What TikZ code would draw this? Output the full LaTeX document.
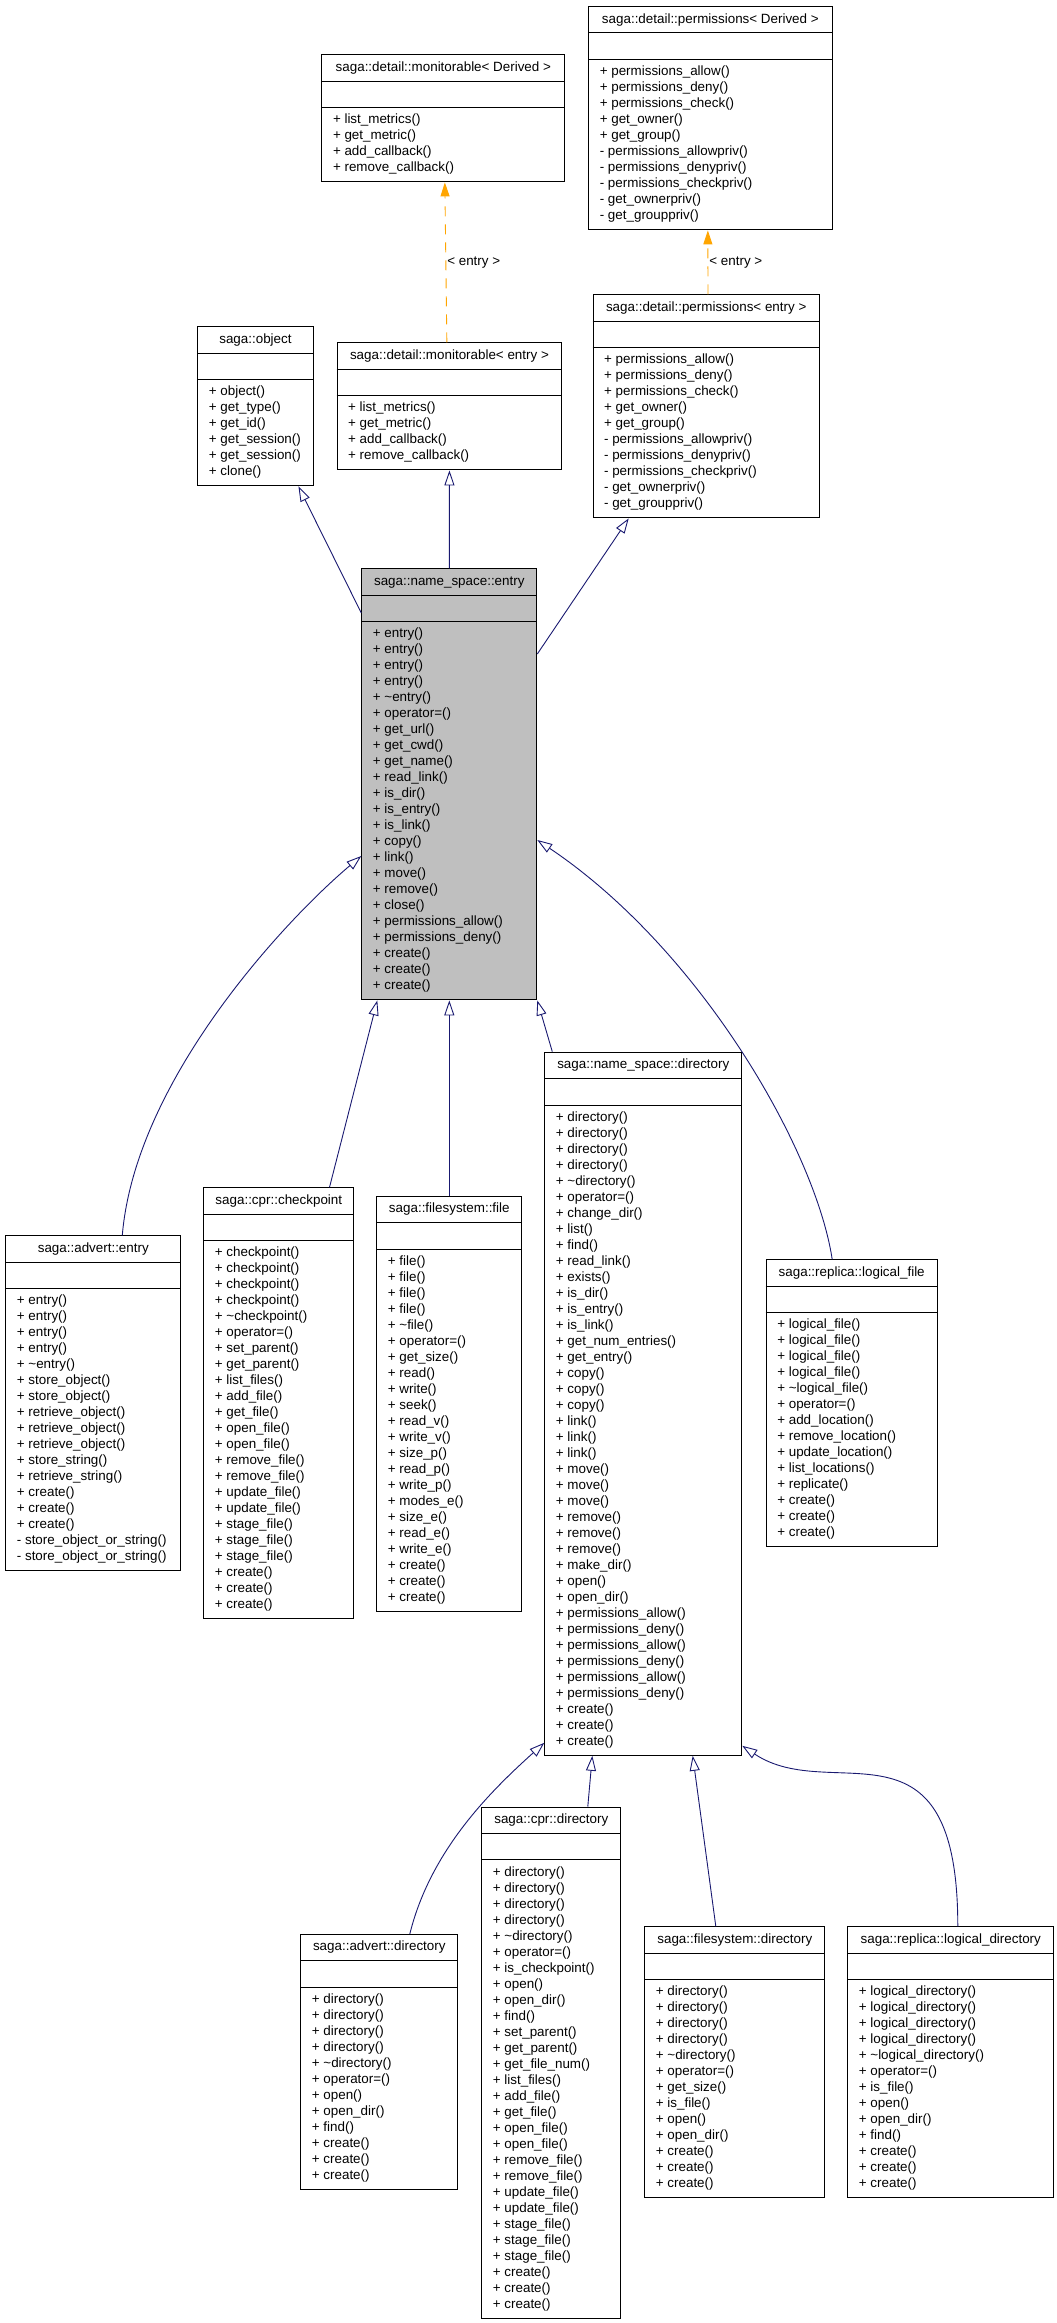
\documentclass[tikz,border=0pt]{standalone}
\usepackage{fontspec}                 % polices systeme
\setmainfont{Liberation Sans}
\usepackage{tikz}
\usetikzlibrary{arrows.meta,          % pointes de fleches
           calc}                      % calculs de coordonnees
\definecolor{lien}{RGB}{25,25,112}
\definecolor{gabarit}{RGB}{255,165,0}
\definecolor{grisclasse}{RGB}{191,191,191}
\newcommand{\police}{\fontsize{13.4}{16}\selectfont}
% classe : [style] nom, x, y, largeur, nb de membres, titre, membres
\newcommand{\classe}[8][]{%
  \node[classe,#1,minimum width=#5pt,minimum height={16*#6+63.1}] (#2) at (#3,#4) {};
  \draw[line width=1pt] (#2.north west) ++(0,26.7) -- ++(#5,0);
  \draw[line width=1pt] (#2.north west) ++(0,53.4) -- ++(#5,0);
  \path (#2.north) ++(0,16.9) node[titre] (#2-t) {#7};
  \foreach \m [count=\i] in {#8}
    \path (#2.north west) ++(11.4,{53.6+16*\i}) node[membre] (#2-\i) {\m};
}

\begin{document}
\begin{tikzpicture}[x=1pt,y=-1pt,
  classe/.style={draw=black,line width=1pt,fill=white,inner sep=0pt,anchor=north west},
  titre/.style={anchor=base,inner sep=0pt,font=\police},
  membre/.style={anchor=base west,inner sep=0pt,font=\police},
  herite/.style={draw=lien,line width=0.9pt,-{Triangle[open,length=15pt,width=10pt,line width=0.9pt]}},
  modele/.style={draw=gabarit,line width=0.9pt,dash pattern=on 10pt off 8pt,-{Triangle[length=14pt,width=9pt,fill=gabarit]}},
  etiquette/.style={anchor=west,inner sep=1pt,font=\police}]
\useasboundingbox (0,0) rectangle (1057,2323);
\classe{monD}{321.4}{54.3}{242.9}{4}{saga::detail::monitorable< Derived >}
  {+ list\_metrics(),+ get\_metric(),+ add\_callback(),+ remove\_callback()}
\classe{permD}{588.2}{6.3}{243.3}{10}{saga::detail::permissions< Derived >}
  {+ permissions\_allow(),+ permissions\_deny(),+ permissions\_check(),+ get\_owner(),+ get\_group(),
   - permissions\_allowpriv(),- permissions\_denypriv(),- permissions\_checkpriv(),- get\_ownerpriv(),- get\_grouppriv()}
\classe{objet}{197.3}{326.3}{115.3}{6}{saga::object}
  {+ object(),+ get\_type(),+ get\_id(),+ get\_session(),+ get\_session(),+ clone()}
\classe{monE}{336.6}{342.3}{224.7}{4}{saga::detail::monitorable< entry >}
  {+ list\_metrics(),+ get\_metric(),+ add\_callback(),+ remove\_callback()}
\classe{permE}{592.5}{294.3}{226.4}{10}{saga::detail::permissions< entry >}
  {+ permissions\_allow(),+ permissions\_deny(),+ permissions\_check(),+ get\_owner(),+ get\_group(),
   - permissions\_allowpriv(),- permissions\_denypriv(),- permissions\_checkpriv(),- get\_ownerpriv(),- get\_grouppriv()}
\classe[fill=grisclasse]{entry}{361.3}{568.3}{175}{23}{saga::name\_space::entry}
  {+ entry(),+ entry(),+ entry(),+ entry(),+ \textasciitilde entry(),+ operator=(),+ get\_url(),+ get\_cwd(),
   + get\_name(),+ read\_link(),+ is\_dir(),+ is\_entry(),+ is\_link(),+ copy(),+ link(),+ move(),+ remove(),
   + close(),+ permissions\_allow(),+ permissions\_deny(),+ create(),+ create(),+ create()}
\classe{advE}{5.3}{1235.3}{175}{17}{saga::advert::entry}
  {+ entry(),+ entry(),+ entry(),+ entry(),+ \textasciitilde entry(),+ store\_object(),+ store\_object(),
   + retrieve\_object(),+ retrieve\_object(),+ retrieve\_object(),+ store\_string(),+ retrieve\_string(),
   + create(),+ create(),+ create(),- store\_object\_or\_string(),- store\_object\_or\_string()}
\classe{chk}{203.3}{1187.3}{150}{23}{saga::cpr::checkpoint}
  {+ checkpoint(),+ checkpoint(),+ checkpoint(),+ checkpoint(),+ \textasciitilde checkpoint(),+ operator=(),
   + set\_parent(),+ get\_parent(),+ list\_files(),+ add\_file(),+ get\_file(),+ open\_file(),+ open\_file(),
   + remove\_file(),+ remove\_file(),+ update\_file(),+ update\_file(),+ stage\_file(),+ stage\_file(),
   + stage\_file(),+ create(),+ create(),+ create()}
\classe{fichier}{376.3}{1195.7}{145}{22}{saga::filesystem::file}
  {+ file(),+ file(),+ file(),+ file(),+ \textasciitilde file(),+ operator=(),+ get\_size(),+ read(),+ write(),
   + seek(),+ read\_v(),+ write\_v(),+ size\_p(),+ read\_p(),+ write\_p(),+ modes\_e(),+ size\_e(),+ read\_e(),
   + write\_e(),+ create(),+ create(),+ create()}
\classe{dir}{544.3}{1051.7}{197}{40}{saga::name\_space::directory}
  {+ directory(),+ directory(),+ directory(),+ directory(),+ \textasciitilde directory(),+ operator=(),
   + change\_dir(),+ list(),+ find(),+ read\_link(),+ exists(),+ is\_dir(),+ is\_entry(),+ is\_link(),
   + get\_num\_entries(),+ get\_entry(),+ copy(),+ copy(),+ copy(),+ link(),+ link(),+ link(),+ move(),
   + move(),+ move(),+ remove(),+ remove(),+ remove(),+ make\_dir(),+ open(),+ open\_dir(),
   + permissions\_allow(),+ permissions\_deny(),+ permissions\_allow(),+ permissions\_deny(),
   + permissions\_allow(),+ permissions\_deny(),+ create(),+ create(),+ create()}
\classe{lfichier}{765.7}{1259.3}{171}{14}{saga::replica::logical\_file}
  {+ logical\_file(),+ logical\_file(),+ logical\_file(),+ logical\_file(),+ \textasciitilde logical\_file(),
   + operator=(),+ add\_location(),+ remove\_location(),+ update\_location(),+ list\_locations(),
   + replicate(),+ create(),+ create(),+ create()}
\classe{advD}{300.3}{1934}{157}{12}{saga::advert::directory}
  {+ directory(),+ directory(),+ directory(),+ directory(),+ \textasciitilde directory(),+ operator=(),
   + open(),+ open\_dir(),+ find(),+ create(),+ create(),+ create()}
\classe{cprD}{481.3}{1806.5}{139}{28}{saga::cpr::directory}
  {+ directory(),+ directory(),+ directory(),+ directory(),+ \textasciitilde directory(),+ operator=(),
   + is\_checkpoint(),+ open(),+ open\_dir(),+ find(),+ set\_parent(),+ get\_parent(),+ get\_file\_num(),
   + list\_files(),+ add\_file(),+ get\_file(),+ open\_file(),+ open\_file(),+ remove\_file(),+ remove\_file(),
   + update\_file(),+ update\_file(),+ stage\_file(),+ stage\_file(),+ stage\_file(),+ create(),+ create(),+ create()}
\classe{fsD}{644.3}{1926.3}{180}{13}{saga::filesystem::directory}
  {+ directory(),+ directory(),+ directory(),+ directory(),+ \textasciitilde directory(),+ operator=(),
   + get\_size(),+ is\_file(),+ open(),+ open\_dir(),+ create(),+ create(),+ create()}
\classe{ldir}{847.3}{1926.3}{206}{13}{saga::replica::logical\_directory}
  {+ logical\_directory(),+ logical\_directory(),+ logical\_directory(),+ logical\_directory(),
   + \textasciitilde logical\_directory(),+ operator=(),+ is\_file(),+ open(),+ open\_dir(),+ find(),
   + create(),+ create(),+ create()}
\draw[modele] ([xshift=-2.6pt]monE.north) -- ([xshift=1.5pt]monD.south) node[midway,etiquette] {< entry >};
\draw[modele] ([xshift=1.8pt]permE.north) -- ([xshift=-2.5pt]permD.south) node[midway,etiquette] {< entry >};
\draw[herite] ([yshift=-44.7pt]entry.north west) -- ([xshift=43pt]objet.south);
\draw[herite] (entry.north) -- (monE.south);
\draw[herite] ([yshift=-85.7pt]entry.north east) -- ([xshift=-77.5pt]permE.south);
\draw[herite] ([xshift=29pt]advE.north) .. controls +(13,-155) and +(-76,64) .. ([yshift=-287.7pt]entry.north west);
\draw[herite] ([xshift=50.7pt]chk.north) -- ([xshift=16pt]entry.south west);
\draw[herite] (fichier.north) -- (entry.south);
\draw[herite] ([xshift=8pt]dir.north west) -- (entry.south east);
\draw[herite] ([xshift=-19.5pt]lfichier.north) .. controls +(-16.7,-109.3) and +(163.7,110) .. ([yshift=-271.7pt]entry.north east);
\draw[herite] ([xshift=30.5pt]advD.north) .. controls +(20.7,-84) and +(-53.3,48) .. ([yshift=13pt]dir.south west);
\draw[herite] ([xshift=36.5pt]cprD.north) -- ([xshift=48pt]dir.south west);
\draw[herite] ([xshift=-19pt]fsD.north) -- ([xshift=148.4pt]dir.south west);
\draw[herite] ([xshift=7pt]ldir.north) .. controls +(0,-220) and +(90,60) .. ([yshift=10pt]dir.south east);
\end{tikzpicture}
\end{document}
